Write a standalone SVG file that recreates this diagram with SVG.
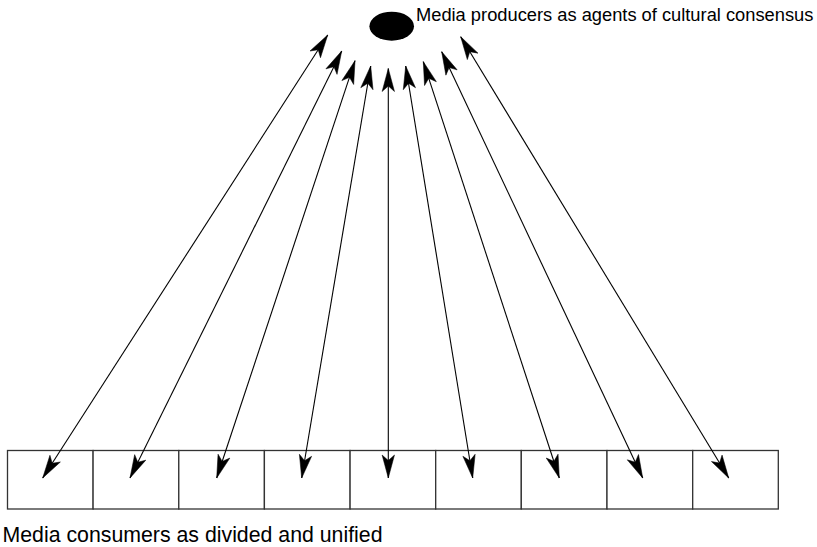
<svg xmlns="http://www.w3.org/2000/svg" width="817" height="547" viewBox="0 0 817 547">
<style>
.cell{fill:#fff;stroke:#333;stroke-width:1.3}
.conn{stroke:#000;stroke-width:1.1;fill:none;marker-start:url(#ah);marker-end:url(#ah)}
.lbl{font-family:"Liberation Sans",Arial,Helvetica,sans-serif;fill:#000}
</style>
<defs>
<marker id="ah" markerUnits="userSpaceOnUse" viewBox="-25 -8 27 16" refX="0" refY="0" markerWidth="27" markerHeight="16" orient="auto-start-reverse">
<path d="M0,0 L-23,-6.2 L-17.5,0 L-23,6.2 Z" fill="#000" stroke="#000" stroke-width="0.5" stroke-linejoin="miter"/>
</marker>
</defs>
<rect width="817" height="547" fill="#fff"/>
<g id="producers">
<ellipse cx="391.7" cy="26.2" rx="22.3" ry="14.5" fill="#000"/>
<text class="lbl" x="416" y="20.7" font-size="18.3">Media producers as agents of cultural consensus</text>
</g>
<g id="consumers">
<g id="c1"><rect class="cell" x="7.5" y="450.5" width="85.6" height="58.5"/></g>
<g id="c2"><rect class="cell" x="93.1" y="450.5" width="85.7" height="58.5"/></g>
<g id="c3"><rect class="cell" x="178.8" y="450.5" width="85.6" height="58.5"/></g>
<g id="c4"><rect class="cell" x="264.4" y="450.5" width="85.7" height="58.5"/></g>
<g id="c5"><rect class="cell" x="350.1" y="450.5" width="85.6" height="58.5"/></g>
<g id="c6"><rect class="cell" x="435.7" y="450.5" width="85.6" height="58.5"/></g>
<g id="c7"><rect class="cell" x="521.3" y="450.5" width="85.7" height="58.5"/></g>
<g id="c8"><rect class="cell" x="607" y="450.5" width="85.7" height="58.5"/></g>
<g id="c9"><rect class="cell" x="692.7" y="450.5" width="85.6" height="58.5"/></g>
<text class="lbl" x="2.5" y="541.5" font-size="21.3">Media consumers as divided and unified</text>
</g>
<g id="connectors">
<line class="conn" x1="327.7" y1="35" x2="42.7" y2="478"/>
<line class="conn" x1="341.7" y1="51" x2="130" y2="478"/>
<line class="conn" x1="355" y1="60.7" x2="216.7" y2="478"/>
<line class="conn" x1="370.7" y1="66" x2="301.7" y2="478"/>
<line class="conn" x1="388.3" y1="68.5" x2="388.3" y2="478"/>
<line class="conn" x1="405.7" y1="66" x2="472.7" y2="478"/>
<line class="conn" x1="423.3" y1="61.7" x2="559.3" y2="478"/>
<line class="conn" x1="441.7" y1="51.7" x2="642.7" y2="478"/>
<line class="conn" x1="460.7" y1="36.7" x2="728.7" y2="478"/>
</g>
</svg>
